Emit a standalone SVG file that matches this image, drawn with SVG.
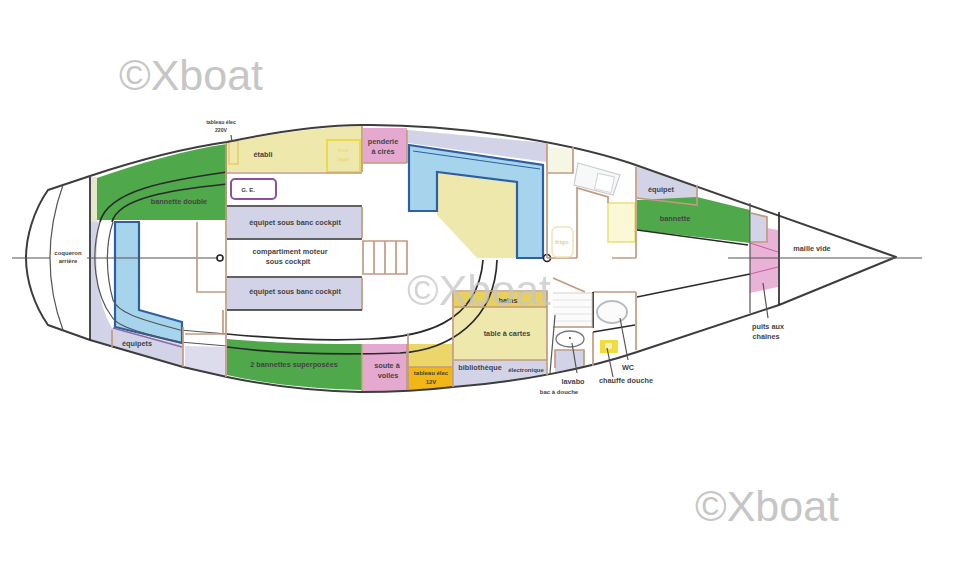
<svg xmlns="http://www.w3.org/2000/svg" width="960" height="584" viewBox="0 0 960 584">
<style>
.t{font-family:"Liberation Sans",Arial,sans-serif;font-size:7.3px;font-weight:700;fill:#444;text-anchor:middle}
.s{font-size:6px}
.wm{font-family:"Liberation Sans",Arial,sans-serif;font-size:43px;fill:#c6c6c6}
.hull{fill:none;stroke:#3c3c3c;stroke-width:2;stroke-linejoin:round}
.thin{fill:none;stroke:#555;stroke-width:1.2}
.dk{fill:none;stroke:#2b2b2b;stroke-width:1.7}
.br{fill:none;stroke:#c29a80;stroke-width:1.7}
.grn{fill:#4fa84a}
.lav{fill:#d2d3e6}
.pnk{fill:#e5a9d0}
.yel{fill:#efe8ac}
.blu{fill:#a5d4ec;stroke:#2f5f9e;stroke-width:2.2}
</style>
<defs><filter id="soft" filterUnits="userSpaceOnUse" x="0" y="100" width="960" height="310"><feGaussianBlur stdDeviation="0.45"/></filter></defs>
<rect width="960" height="584" fill="#fff"/>

<g id="plan" filter="url(#soft)">
<!-- cabin fills -->
<path d="M91 177L97 177V222H91Z" fill="#e6e6cc"/>
<path class="grn" d="M97 178C140 163 185 150 227 144V220H97Z"/>
<path class="lav" d="M91 222H100C92 265 98 305 112 328L183 345V367L112 347L91 340Z"/>
<path d="M185 346L227 347V377L185 367Z" fill="#dcdcec"/>
<path class="yel" d="M227 143C270 134 320 127 362 126V172H227Z"/>
<rect x="227" y="207" width="135" height="31" class="lav"/>
<rect x="227" y="278" width="135" height="32" class="lav"/>
<path class="grn" d="M227 339C270 343 320 344 362 344V390C320 389 270 385 227 375Z"/>
<path class="pnk" d="M363 128H407V163H363Z"/>
<path class="pnk" d="M363 344H407V391H363Z"/>
<path d="M408 344H453V367H408Z" fill="#ecd66a"/>
<path d="M408 367H453V387L408 390Z" fill="#f2b619"/>
<path class="lav" d="M408 130L547 143V162L408 143Z"/>
<path class="yel" d="M437 173L516 183V258H477L437 215Z"/>
<rect x="454" y="292" width="93" height="15" fill="#e8d05e"/>
<rect x="454" y="307" width="93" height="53" class="yel"/>
<path class="lav" d="M454 360H546V376C515 382 485 385 454 387Z"/>
<path d="M548 147L573 149V173H548Z" fill="#f6f6e4"/>
<path class="lav" d="M637 167L697 187V205L637 198Z"/>
<path class="grn" d="M637 200L697 197L750 210V243L637 230Z"/>
<path d="M750 242L767 228L778 230V287L750 293Z" fill="#e9b3d8"/>
<path class="lav" d="M751 213L767 217V242H751Z"/>
<path class="lav" d="M555 350H584V367L555 372Z"/>
<rect x="600" y="340" width="18" height="13" fill="#f2dc3a"/>
<rect x="605" y="343" width="7" height="6" fill="#f6f0b4"/>
<rect x="608" y="203" width="27" height="39" fill="#fbf8d8" stroke="#ece27a" stroke-width="1.6"/>
<rect x="327" y="140" width="33" height="32" fill="none" stroke="#ecd94e" stroke-width="2"/>
<rect x="229" y="141" width="9" height="23" fill="none" stroke="#e3c95a" stroke-width="1.3"/>

<!-- blue settees -->
<path class="blu" d="M409 145L543 165V258H517V182L437 172V211H409Z"/>
<path d="M413 151L540 169" fill="none" stroke="#2f5f9e" stroke-width="1"/>
<path class="blu" d="M115 222H139V310L182 322V343L115 327Z"/>
<path d="M113 328L182 347" fill="none" stroke="#8e6aa8" stroke-width="1.5"/>

<!-- hull -->
<path class="hull" d="M48 190L90 176C135 161 185 148 227 142C270 133 320 125 362 125C450 124 560 140 630 163L896 257L779 305L637 352C590 368 520 382 453 387C420 391 390 392 360 392C315 391 270 386 227 377L183 367L90 340L48 325C34 305 26 280 26 258C26 236 34 210 48 190Z"/>
<path class="thin" d="M63 185C54 210 50 235 50 258C50 281 54 306 63 330" stroke-width="1.5"/>
<path class="dk" d="M90 177V340"/>
<path class="dk" d="M779 212V305" stroke-width="2"/>
<path class="thin" d="M750 203V313" stroke="#a09a9c"/>
<path class="thin" d="M12 258H50M87 258H217M728 258H922"/>

<!-- berth curves and cabin sole -->
<path class="dk" d="M100 222C108 190 170 180 227 172"/>
<path class="dk" d="M112 222C118 198 170 190 227 184"/>
<path class="thin" d="M100 222C90 255 95 295 112 317C118 328 150 335 180 342L227 346" stroke-width="1.5"/>
<path class="thin" d="M113 222C105 245 106 275 113 300C118 312 135 318 180 330L227 334" stroke-width="1.5"/>
<path class="dk" d="M227 334C280 339 330 341 370 339C420 337 478 325 483 260" stroke-width="1.5"/>
<path class="dk" d="M227 347C280 354 340 355 400 353C450 350 495 320 497 260"/>
<path class="dk" d="M637 297L750 274"/>
<path class="dk" d="M637 230L748 245" stroke-width="1.9"/>
<circle cx="220" cy="258" r="3" fill="#fff" stroke="#222" stroke-width="1.6"/>
<circle cx="547" cy="258" r="3.5" fill="#fff" stroke="#222" stroke-width="1.6"/>

<!-- bulkheads and furniture -->
<path class="br" d="M226 143V377M227 173H362M362 126V172M362 207V238M362 278V310M362 344V391M407 130V163M407 344V390M363 163H407"/>
<path class="dk" d="M227 206H362M227 239H362M227 277H362M227 310H362" stroke-width="1.4"/>
<path class="br" d="M197 222V292H226M223 310V333M185 334H225M183 327V367M112 330V347" />
<rect x="231" y="179" width="45" height="20" rx="4" fill="#fff" stroke="#8e4f9c" stroke-width="2"/>
<path class="br" d="M363 241H407V274H363ZM374 241V274M385 241V274M396 241V274"/>
<path class="br" d="M453 291H547V375M454 307H547M454 360H547M453 291V387M408 333V390M408 367H453"/>
<path class="br" d="M547 144V258M548 173H573V147M577 258V188L608 197V203M547 258H577M612 258H636M636 167V258M636 292V350M593 292H636M593 332V366"/>
<path class="dk" d="M593 292V328M593 332L635 325" stroke-width="1.2"/>
<path d="M553 278L585 292" class="br"/>
<path d="M553 293H592V327H553" fill="#fbfbfb" stroke="#d8d0cc" stroke-width="1"/>
<path d="M553 300H592M553 307H592M553 314H592M553 321H592" stroke="#e2e2e2" fill="none"/>
<path class="br" d="M553 327H593"/>
<path class="br" d="M555 368V350H584V366" stroke-width="1.2"/>
<rect x="552" y="227" width="21" height="30" rx="5" fill="#fff" stroke="#eee5b8" stroke-width="1.5"/>
<path d="M578 163L620 175L613 195L574 185Z" fill="#f7f8f8" stroke="#c9cdd1" stroke-width="1.2"/>
<rect x="596" y="175" width="17" height="16" fill="#fff" stroke="#cfd2d6" transform="rotate(12 605 183)"/>
<ellipse cx="612" cy="312" rx="15" ry="11" fill="#fbfbfb" stroke="#b9bdc2" stroke-width="2"/>
<ellipse cx="570" cy="339" rx="14" ry="8" fill="#fff" stroke="#777" stroke-width="1.3"/>
<circle cx="570" cy="338" r="1" fill="#333"/>
<path class="br" d="M697 185V205L637 198"/>
<path class="br" d="M751 213L767 217V242H751" stroke-width="1.3"/>
<path class="thin" d="M555 315L550 373M572 343L577 373M620 318L628 360M607 348L613 377M763 283L768 318" stroke-width="1"/>
<path d="M231 135L232 142" class="thin" stroke-width=".8"/>
<path d="M750 243L778 252M750 274L778 267" stroke="#c85aa5" fill="none" stroke-width="1"/>
</g>

<!-- labels -->
<text class="t s" x="221" y="124" style="font-size:5.2px">tableau élec</text>
<text class="t s" x="221" y="132" style="font-size:5.2px">220V</text>
<text class="t" x="263" y="157">établi</text>
<text class="t s" x="343" y="152" style="fill:#e8dc80">box</text>
<text class="t s" x="343" y="161" style="fill:#e8dc80">lage</text>
<text class="t" x="383" y="144">penderie</text>
<text class="t" x="383" y="154">à cirés</text>
<text class="t s" x="248" y="192">G. E.</text>
<text class="t" x="179" y="204">bannette double</text>
<text class="t" x="295" y="224.500">équipet sous banc cockpit</text>
<text class="t" x="290" y="253.500">compartiment moteur</text>
<text class="t" x="288" y="263.500">sous cockpit</text>
<text class="t" x="295" y="294">équipet sous banc cockpit</text>
<text class="t s" x="68" y="255">coqueron</text>
<text class="t s" x="68" y="263">arrière</text>
<text class="t" x="137" y="346">équipets</text>
<text class="t" x="294" y="367">2 bannettes superposées</text>
<text class="t" x="387" y="368">soute à</text>
<text class="t" x="388" y="378">voiles</text>
<text class="t s" x="431" y="375">tableau élec</text>
<text class="t s" x="431" y="384">12V</text>
<text class="t" x="508" y="303">bains</text>
<text class="t" x="507" y="336">table à cartes</text>
<text class="t" x="480" y="370">bibliothèque</text>
<text class="t s" x="526" y="372">électronique</text>
<text class="t s" x="562" y="244" style="fill:#e0d37a">frigo</text>
<text class="t" x="661" y="191.500">équipet</text>
<text class="t" x="675" y="220.500">bannette</text>
<text class="t" x="812" y="251">maille vide</text>
<text class="t" x="768" y="329">puits aux</text>
<text class="t" x="766" y="339">chaînes</text>
<text class="t" x="628" y="370">WC</text>
<text class="t" x="626" y="383">chauffe douche</text>
<text class="t" x="573" y="384">lavabo</text>
<text class="t s" x="559" y="394">bac à douche</text>

<!-- watermarks -->
<text class="wm" x="119" y="90">©Xboat</text>
<text class="wm" x="407" y="305" opacity=".75">©Xboat</text>
<text class="wm" x="695" y="521">©Xboat</text>
</svg>
